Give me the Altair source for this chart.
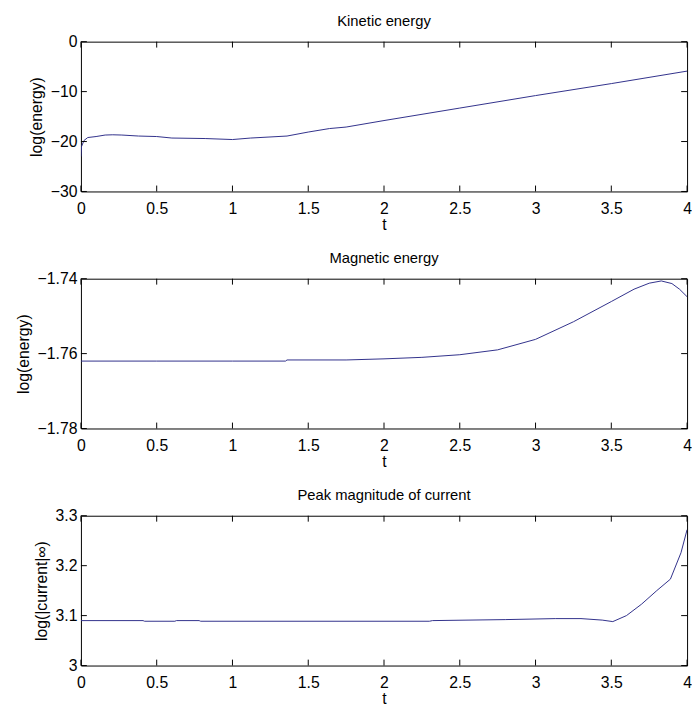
import altair as alt
import pandas as pd

# ---------------- data ----------------
t_ke = [0.0, 0.004, 0.02, 0.045, 0.1, 0.16, 0.21, 0.27, 0.38, 0.5, 0.6, 0.82, 1.0, 1.12, 1.36, 1.5, 1.64, 1.75,
        2.0, 2.5, 3.0, 3.5, 4.0]
ke = [-23.0, -21.0, -19.8, -19.2, -19.0, -18.7, -18.65, -18.7, -18.9, -19.0, -19.3, -19.4, -19.6, -19.3, -18.9,
      -18.1, -17.4, -17.1, -15.8, -13.3, -10.8, -8.4, -5.9]

t_me = [0.0, 0.5, 1.0, 1.35, 1.36, 1.75, 2.0, 2.25, 2.5, 2.75, 3.0, 3.25, 3.5, 3.65, 3.75, 3.83, 3.9, 3.95, 4.0]
me = [-1.7620, -1.7620, -1.7620, -1.7620, -1.7617, -1.7617, -1.7614, -1.7610, -1.7603, -1.7590, -1.7562,
      -1.7515, -1.7461, -1.7428, -1.7412, -1.7406, -1.7413, -1.7428, -1.7448]

t_cur = [0.0, 0.41, 0.42, 0.62, 0.63, 0.78, 0.79, 2.3, 2.32, 2.8, 3.13, 3.3, 3.44, 3.51, 3.6, 3.7, 3.8, 3.89,
         3.96, 4.0]
cur = [3.090, 3.090, 3.0887, 3.0887, 3.090, 3.090, 3.0887, 3.0887, 3.090, 3.092, 3.094, 3.094, 3.091, 3.088,
       3.100, 3.123, 3.150, 3.173, 3.226, 3.272]

x_ticks = [0, 0.5, 1, 1.5, 2, 2.5, 3, 3.5, 4]
ke_ticks = [-30, -20, -10, 0]
me_ticks = [-1.78, -1.76, -1.74]
cur_ticks = [3.0, 3.1, 3.2, 3.3]

titles = ["Kinetic energy", "Magnetic energy", "Peak magnitude of current"]
ylabels = ["log(energy)", "log(energy)", "log(|current|∞)"]

W, H = 615, 152
FONT = "Liberation Sans, Arial, sans-serif"
LINE = "#30308a"
TL = 6  # tick length
FS = 16


def panel(t, y, yticks, title, ylabel):
    dom = [min(yticks), max(yticks)]
    df = pd.DataFrame({"t": t, "v": y})
    xs = alt.Scale(domain=[0, 4], nice=False, zero=False)
    ys = alt.Scale(domain=dom, nice=False, zero=False)
    line = alt.Chart(df).mark_line(color=LINE, strokeWidth=1, clip=True).encode(
        x=alt.X("t:Q", scale=xs,
                axis=alt.Axis(values=x_ticks, format="~f", ticks=False, domain=False, grid=False,
                              labelPadding=9, title="t", titlePadding=1, labelFlush=False)),
        y=alt.Y("v:Q", scale=ys,
                axis=alt.Axis(values=yticks, format="~f", ticks=False, domain=False, grid=False,
                              labelPadding=4, title=ylabel, titlePadding=6)),
    )
    xt = pd.DataFrame({"t": x_ticks})
    yt = pd.DataFrame({"v": yticks})
    xtop = alt.Chart(xt).mark_rule(color="black", strokeWidth=1).encode(
        x=alt.X("t:Q", scale=xs), y=alt.value(0), y2=alt.value(TL))
    xbot = alt.Chart(xt).mark_rule(color="black", strokeWidth=1).encode(
        x=alt.X("t:Q", scale=xs), y=alt.value(H), y2=alt.value(H - TL))
    yleft = alt.Chart(yt).mark_rule(color="black", strokeWidth=1).encode(
        y=alt.Y("v:Q", scale=ys), x=alt.value(0), x2=alt.value(TL))
    yright = alt.Chart(yt).mark_rule(color="black", strokeWidth=1).encode(
        y=alt.Y("v:Q", scale=ys), x=alt.value(W), x2=alt.value(W - TL))
    return alt.layer(line, xtop, xbot, yleft, yright).properties(
        width=W, height=H,
        title=alt.TitleParams(title, fontSize=FS - 1, fontWeight="normal", font=FONT, offset=5, color="black"),
    )


p1 = panel(t_ke, ke, ke_ticks, titles[0], ylabels[0])
p2 = panel(t_me, me, me_ticks, titles[1], ylabels[1])
p3 = panel(t_cur, cur, cur_ticks, titles[2], ylabels[2])

chart = alt.vconcat(p1, p2, p3, spacing=16.5).properties(
    padding={"left": 7, "top": 0, "right": 0, "bottom": 0},
    background="white",
).configure_view(stroke="black", strokeWidth=1).configure_axis(
    labelFont=FONT, titleFont=FONT, labelFontSize=FS, titleFontSize=FS,
    labelColor="black", titleColor="black", titleFontWeight="normal",
).configure_title(anchor="middle")

chart.save("out.html", embed_options={"renderer": "svg", "actions": False})
